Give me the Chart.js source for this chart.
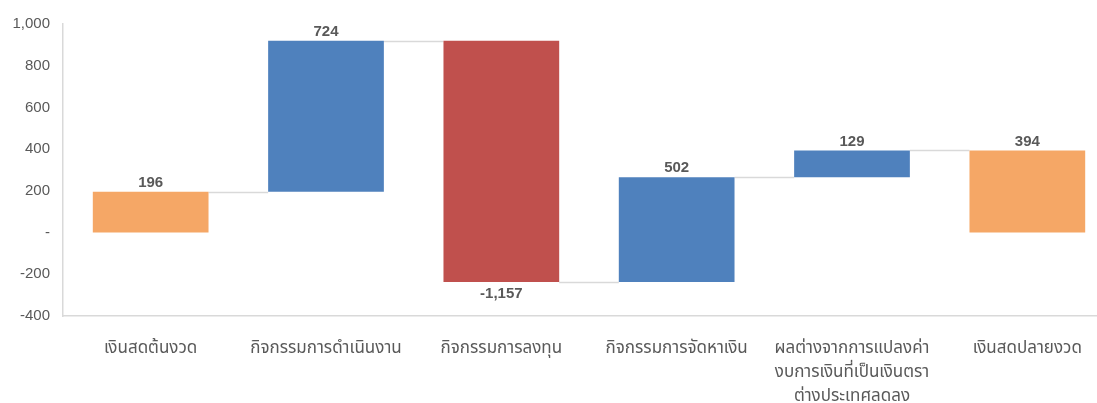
<!DOCTYPE html>
<html lang="th">
<head>
    <meta charset="UTF-8">
    <title>Cash flow waterfall</title>
    <script src="https://cdn.jsdelivr.net/npm/chart.js"></script>
    <style>
        body {
            margin: 0;
            background: #ffffff;
            overflow: hidden;
        }
        .chart-box {
            position: absolute;
            left: 0;
            top: 0;
            width: 1116px;
            height: 403px;
        }
    </style>
</head>
<body>
    <div class="chart-box">
        <canvas id="flowChart"></canvas>
    </div>
    <script>
        // categories (multi-line labels as arrays)
        const categories = [
            'เงินสดต้นงวด',
            'กิจกรรมการดำเนินงาน',
            'กิจกรรมการลงทุน',
            'กิจกรรมการจัดหาเงิน',
            ['ผลต่างจากการแปลงค่า', 'งบการเงินที่เป็นเงินตรา', 'ต่างประเทศลดลง'],
            'เงินสดปลายงวด'
        ];
        const amounts = [196, 724, -1157, 502, 129, 394];
        const isTotal = [true, false, false, false, false, true];
        const yTickValues = [-400, -200, 0, 200, 400, 600, 800, 1000];

        const colTotal = '#F5A766';
        const colUp = '#4F81BD';
        const colDown = '#C0504D';

        // floating bars: [start, end]
        let running = 0;
        const ranges = amounts.map((v, i) => {
            if (isTotal[i]) {
                running = v;
                return [0, v];
            }
            const start = running;
            running += v;
            return [start, running];
        });
        const colors = amounts.map((v, i) => isTotal[i] ? colTotal : (v >= 0 ? colUp : colDown));

        const fmt = v => v === 0 ? '-' : v.toLocaleString('en-US');

        const connectors = {
            id: 'connectors',
            beforeDatasetsDraw(chart) {
                const meta = chart.getDatasetMeta(0);
                const y = chart.scales.y;
                const ctx = chart.ctx;
                ctx.save();
                ctx.strokeStyle = '#d9d9d9';
                ctx.lineWidth = 1.5;
                for (let i = 0; i < meta.data.length - 1; i++) {
                    const a = meta.data[i], b = meta.data[i + 1];
                    const py = Math.round(y.getPixelForValue(ranges[i][1])) + 0.5;
                    ctx.beginPath();
                    ctx.moveTo(a.x + a.width / 2, py);
                    ctx.lineTo(b.x - b.width / 2, py);
                    ctx.stroke();
                }
                ctx.restore();
            }
        };

        const valueLabels = {
            id: 'valueLabels',
            afterDatasetsDraw(chart) {
                const meta = chart.getDatasetMeta(0);
                const y = chart.scales.y;
                const ctx = chart.ctx;
                ctx.save();
                ctx.font = 'bold 15px "Liberation Sans", Arial, sans-serif';
                ctx.fillStyle = '#595959';
                ctx.textAlign = 'center';
                ctx.textBaseline = 'middle';
                meta.data.forEach((bar, i) => {
                    const v = amounts[i];
                    if (v >= 0) {
                        ctx.fillText(fmt(v), bar.x, y.getPixelForValue(Math.max(...ranges[i])) - 9);
                    } else {
                        ctx.fillText(fmt(v), bar.x, y.getPixelForValue(Math.min(...ranges[i])) + 12);
                    }
                });
                ctx.restore();
            }
        };

        new Chart(document.getElementById('flowChart'), {
            type: 'bar',
            data: {
                labels: categories,
                datasets: [{
                    data: ranges,
                    backgroundColor: colors,
                    borderWidth: 0,
                    categoryPercentage: 1,
                    barPercentage: 0.66
                }]
            },
            options: {
                responsive: true,
                maintainAspectRatio: false,
                animation: false,
                layout: { padding: { top: 24, right: 1, left: 0, bottom: 0 } },
                plugins: {
                    legend: { display: false },
                    tooltip: { enabled: false }
                },
                scales: {
                    x: {
                        grid: { display: false, drawTicks: false },
                        border: { display: true, color: '#d9d9d9', width: 1.5 },
                        ticks: {
                            color: '#595959',
                            padding: 22,
                            maxRotation: 0,
                            autoSkip: false,
                            font: { family: '"Noto Sans Thai", "Noto Sans", Tahoma, sans-serif', size: 17, lineHeight: 1.4 }
                        },
                        afterFit(scale) { scale.height = 87; }
                    },
                    y: {
                        min: -400,
                        max: 1000,
                        afterBuildTicks(scale) {
                            scale.ticks = yTickValues.map(v => ({ value: v }));
                        },
                        grid: { display: false, drawTicks: false },
                        border: { display: true, color: '#d9d9d9', width: 1.5 },
                        ticks: {
                            color: '#595959',
                            padding: 13,
                            font: { family: '"Liberation Sans", Arial, sans-serif', size: 15 },
                            callback: v => fmt(v)
                        },
                        afterFit(scale) { scale.width = 63; }
                    }
                }
            },
            plugins: [connectors, valueLabels]
        });
    </script>
</body>
</html>
